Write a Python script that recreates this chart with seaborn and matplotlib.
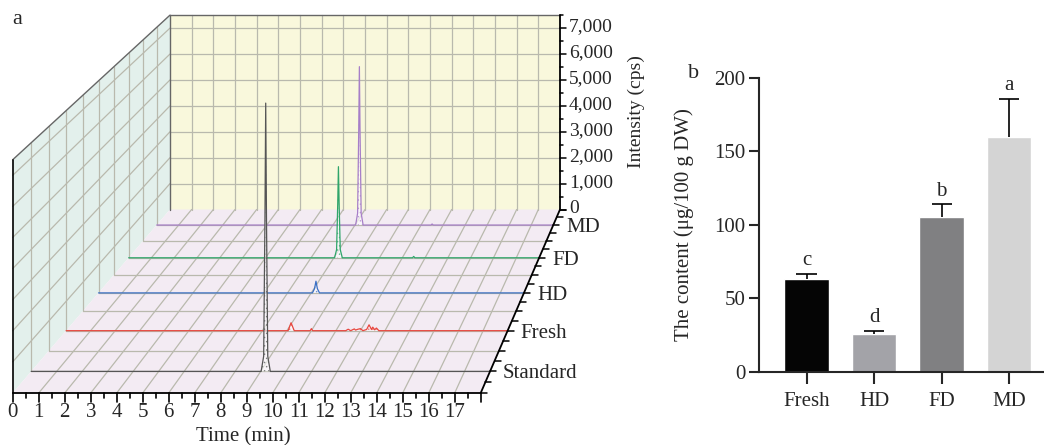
import numpy as np
import pandas as pd
import seaborn as sns
import matplotlib.pyplot as plt

sns.set_style("ticks")
plt.rcParams['font.family'] = ['Liberation Serif', 'DejaVu Serif']
plt.rcParams['hatch.linewidth'] = 0.6

# ---- panel a: chromatograms (time in min, intensity in cps) ----
samples = ["Standard", "Fresh", "HD", "FD", "MD"]
sample_depth = [0.5, 1.5, 2.5, 3.5, 4.5]
trace_colors = ["#555555", "#e8473f", "#3a6fc4", "#2fa56a", "#a77fc8"]

standard_t = [0, 9.02, 9.12, 9.17, 9.2, 9.23, 9.28, 9.38, 18]
standard_i = [0, 0, 500, 5000, 8800, 5000, 500, 0, 0]
fresh_t = [0, 9.05, 9.17, 9.3, 9.95, 10.0, 10.05, 11.4, 11.5, 11.6, 11.75, 11.8,
           11.9, 12.0, 12.1, 12.25, 12.35, 12.45, 12.5, 12.58, 12.65, 12.75, 18]
fresh_i = [0, 0, 270, 0, 0, 70, 0, 0, 50, 0, 60, 20, 50, 70, 0, 40, 200, 40,
           120, 30, 90, 0, 0]
hd_t = [0, 9.05, 9.14, 9.2, 9.26, 9.35, 18]
hd_i = [0, 0, 150, 414, 150, 0, 0]
fd_t = [0, 9.03, 9.12, 9.17, 9.2, 9.23, 9.28, 9.37, 12.45, 12.5, 12.55, 18]
fd_i = [0, 0, 300, 2000, 3340, 2000, 300, 0, 0, 50, 0, 0]
md_t = [0, 9.03, 9.12, 9.17, 9.2, 9.23, 9.28, 9.37, 12.45, 12.5, 12.55, 18]
md_i = [0, 0, 450, 3600, 6010, 3600, 450, 0, 0, 40, 0, 0]
traces_t = [standard_t, fresh_t, hd_t, fd_t, md_t]
traces_i = [standard_i, fresh_i, hd_i, fd_i, md_i]

time_ticks = list(range(0, 18))
intensity_ticks = [0, 1000, 2000, 3000, 4000, 5000, 6000, 7000]
t_max, d_max, i_max = 18, 5, 7500

# ---- panel b: content ----
groups = ["Fresh", "HD", "FD", "MD"]
content = [62.9, 25.4, 105.4, 159.9]
content_err = [3.6, 2.3, 8.5, 25.6]
letters = ["c", "d", "b", "a"]
bar_colors = ["#050505", "#a3a3a8", "#808082", "#d4d4d4"]

# simple perspective projection onto figure pixels
VPX, VPY = 956.5, -708.0


def proj(t, d, i):
    t, d, i = np.asarray(t, float), np.asarray(d, float), np.asarray(i, float)
    s = 1.0 / (1.0 + 0.04 * d)
    fx = 12.7 + 26.0 * t
    fy = 393.0 - 0.0311 * i
    return VPX + (fx - VPX) * s, VPY + (fy - VPY) * s


def seg(ax, p0, p1, **kw):
    x0, y0 = proj(*p0)
    x1, y1 = proj(*p1)
    ax.plot([x0, x1], [y0, y1], **kw)


def poly(ax, pts, color):
    xy = [proj(*p) for p in pts]
    ax.fill([p[0] for p in xy], [p[1] for p in xy], color=color, lw=0, zorder=0)


fig = plt.figure(figsize=(10.44, 4.45), dpi=100)
ax = fig.add_axes([0, 0, 1, 1])
ax.set_xlim(0, 1044)
ax.set_ylim(445, 0)
ax.axis("off")

# walls
poly(ax, [(0, d_max, 0), (t_max, d_max, 0), (t_max, d_max, i_max), (0, d_max, i_max)], "#f9f8dc")
poly(ax, [(0, 0, 0), (0, d_max, 0), (0, d_max, i_max), (0, 0, i_max)], "#e3f0ec")
poly(ax, [(0, 0, 0), (t_max, 0, 0), (t_max, d_max, 0), (0, d_max, 0)], "#f3ebf3")

grid = dict(color="#b9b9ad", lw=0.9, zorder=1)
for t in range(1, t_max):
    seg(ax, (t, d_max, 0), (t, d_max, i_max), **grid)
    seg(ax, (t, 0, 0), (t, d_max, 0), **grid)
for i in intensity_ticks[1:]:
    seg(ax, (0, d_max, i), (t_max, d_max, i), **grid)
    seg(ax, (0, 0, i), (0, d_max, i), **grid)
for d in np.arange(0.5, d_max, 0.5):
    seg(ax, (0, d, 0), (0, d, i_max), **grid)
    seg(ax, (0, d, 0), (t_max, d, 0), **grid)

edge = dict(color="#666666", lw=1.0, zorder=2)
seg(ax, (0, d_max, 0), (0, d_max, i_max), **edge)
seg(ax, (0, d_max, i_max), (t_max, d_max, i_max), **edge)
seg(ax, (0, 0, i_max), (0, d_max, i_max), **edge)
seg(ax, (0, 0, 0), (0, 0, i_max), color="black", lw=1.2, zorder=2)

# traces, back to front
for k in range(len(samples) - 1, -1, -1):
    d = sample_depth[k]
    x, y = proj(traces_t[k], np.full(len(traces_t[k]), d), traces_i[k])
    ax.fill(x, y, facecolor="white", edgecolor=trace_colors[k], hatch="....",
            lw=0, alpha=0.6, zorder=3 + (5 - k))
    ax.plot(x, y, color=trace_colors[k], lw=0.9, zorder=3 + (5 - k))

# axes lines
axk = dict(color="black", lw=1.3, zorder=10)
seg(ax, (0, 0, 0), (t_max, 0, 0), **axk)
seg(ax, (t_max, 0, 0), (t_max, d_max, 0), **axk)
seg(ax, (t_max, d_max, 0), (t_max, d_max, i_max), **axk)

# time ticks
for t in np.arange(0, t_max + 0.01, 0.5):
    x, y = proj(t, 0, 0)
    ln = 9 if t == int(t) else 5
    ax.plot([x, x], [y, y + ln], color="black", lw=1.2, zorder=10)
for t in time_ticks:
    x, y = proj(t, 0, 0)
    ax.text(x, y + 10, str(t), ha="center", va="top", fontsize=15)
ax.text(243, 437, "Time (min)", ha="center", va="center", fontsize=15)

# intensity ticks
for i in np.arange(0, i_max + 1, 500):
    x, y = proj(t_max, d_max, i)
    ln = 6 if i % 1000 == 0 else 3
    ax.plot([x, x + ln], [y, y], color="black", lw=1.1, zorder=10)
for i in intensity_ticks:
    x, y = proj(t_max, d_max, i)
    ax.text(x + 9, y - 1, f"{i:,}", ha="left", va="center", fontsize=14)
ax.text(636, 112, "Intensity (cps)", rotation=90, ha="center", va="center", fontsize=14)

# sample ticks
for d in np.arange(0, d_max + 0.01, 0.25):
    x, y = proj(t_max, d, 0)
    ax.plot([x, x + 6], [y, y], color="black", lw=1.1, zorder=10)
for name, d in zip(samples, sample_depth):
    x, y = proj(t_max, d, 0)
    ax.text(x + 13, y + 2.5, name, ha="left", va="center", fontsize=15)

ax.text(17, 20, "a", ha="center", va="center", fontsize=16)
ax.text(694, 73, "b", ha="center", va="center", fontsize=16)

# ---- panel b ----
bx = fig.add_axes([0.7273, 0.1647, 0.2717, 0.6607])
bx.patch.set_alpha(0)
df = pd.DataFrame({"group": groups, "content": content})
sns.barplot(data=df, x="group", y="content", hue="group", palette=bar_colors,
            width=0.66, legend=False, ax=bx, saturation=1)
xs = np.arange(len(groups))
tops = np.array(content) + np.array(content_err)
bx.vlines(xs, content, tops, color="black", lw=1.2)
bx.hlines(tops, xs - 0.15, xs + 0.15, color="black", lw=1.2)
for xv, tv, lt in zip(xs, tops, letters):
    bx.text(xv, tv + 2.5, lt, ha="center", va="bottom", fontsize=15)
bx.set_xlim(-0.7, 3.5)
bx.set_ylim(0, 200)
bx.set_yticks([0, 50, 100, 150, 200])
bx.set_xlabel("")
bx.set_ylabel("The content (μg/100 g DW)", fontsize=15)
bx.yaxis.set_label_coords(-0.23, 0.5)
sns.despine(ax=bx)
for sp in ["left", "bottom"]:
    bx.spines[sp].set_linewidth(1.5)
bx.tick_params(axis="y", length=7, width=1.5, labelsize=15, pad=3)
bx.tick_params(axis="x", length=8.5, width=1.5, labelsize=15, pad=6)

fig.savefig("out.png", dpi=100)
